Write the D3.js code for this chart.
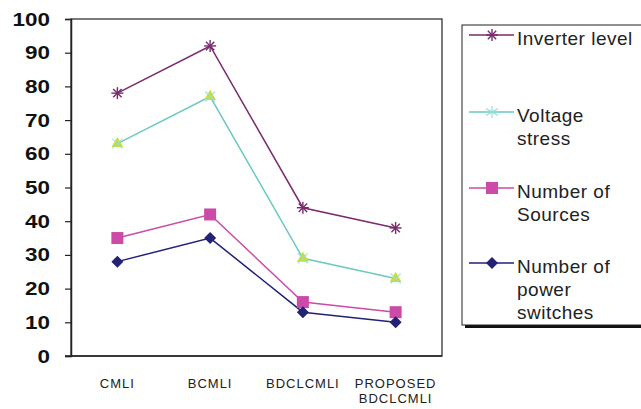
<!DOCTYPE html>
<html lang="en">
  <head>
    <meta charset="utf-8">
    <script src="https://cdn.jsdelivr.net/npm/d3@7"></script>
    <style>
      body { margin: 0; background: #fff; }
      text { font-family: "Liberation Sans", Arial, sans-serif; }
    </style>
  </head>
  <body>
    <svg id="chart" width="641" height="409"></svg>
  </body>
  <script>
    var categories = ["CMLI", "BCMLI", "BDCLCMLI", "PROPOSED\nBDCLCMLI"];
    var inverterLevel = [78, 92, 44, 38];
    var voltageStress = [63, 77, 29, 23];
    var numSources = [35, 42, 16, 13];
    var numSwitches = [28, 35, 13, 10];
    var yTicks = [0, 10, 20, 30, 40, 50, 60, 70, 80, 90, 100];

    var series = [
      {name: ["Inverter level"], values: inverterLevel, color: "#7a2a6e", marker: "star"},
      {name: ["Voltage", "stress"], values: voltageStress, color: "#6cc9c2", marker: "tri"},
      {name: ["Number of", "Sources"], values: numSources, color: "#cc4aa8", marker: "square"},
      {name: ["Number of", "power", "switches"], values: numSwitches, color: "#222277", marker: "diamond"}
    ];

    var svg = d3.select("#chart");
    // plot area edges (avoid the name "top", it is window.top)
    var pLeft = 71, pRight = 442, pTop = 19, pBottom = 356;

    var x = d3.scalePoint().domain(d3.range(categories.length)).range([pLeft, pRight]).padding(0.5);
    var y = d3.scaleLinear().domain([0, 100]).range([pBottom, pTop]);

    // frame of plot area
    svg.append("rect")
      .attr("x", pLeft).attr("y", pTop)
      .attr("width", pRight - pLeft).attr("height", pBottom - pTop)
      .attr("fill", "none").attr("stroke", "#222").attr("stroke-width", 1.2);

    var yAxis = d3.axisLeft(y).tickValues(yTicks).tickSize(6).tickPadding(15);
    var gy = svg.append("g").attr("transform", "translate(" + pLeft + ",0)").call(yAxis);
    gy.select(".domain").attr("stroke", "#222").attr("stroke-width", 1.5);
    gy.selectAll(".tick line").attr("stroke", "#222").attr("stroke-width", 1.2);
    // the tick numbers in the picture are stretched wide
    gy.selectAll(".tick text")
      .attr("font-size", 19).attr("font-weight", "bold").attr("fill", "#111")
      .attr("font-family", "'Liberation Sans', Arial, sans-serif")
      .attr("textLength", function(d) { return String(d).length * 12.5; })
      .attr("lengthAdjust", "spacingAndGlyphs");

    svg.append("line")
      .attr("x1", pLeft - 6).attr("x2", pRight)
      .attr("y1", pBottom).attr("y2", pBottom)
      .attr("stroke", "#222").attr("stroke-width", 1.5);

    // x labels
    categories.forEach(function(c, i) {
      var lines = c.split("\n");
      var t = svg.append("text")
        .attr("x", x(i)).attr("y", 388)
        .attr("text-anchor", "middle")
        .attr("font-size", 13).attr("fill", "#222")
        .attr("letter-spacing", "1px");
      lines.forEach(function(l, j) {
        t.append("tspan").attr("x", x(i)).attr("dy", j === 0 ? 0 : 15).text(l);
      });
    });

    function drawMarker(g, type, cx, cy, color) {
      if (type === "star") {
        var r = 6;
        [[-r, 0, r, 0], [-r * 0.7, -r * 0.7, r * 0.7, r * 0.7], [-r * 0.7, r * 0.7, r * 0.7, -r * 0.7], [0, -r, 0, r]]
          .forEach(function(s) {
            g.append("line")
              .attr("x1", cx + s[0]).attr("y1", cy + s[1])
              .attr("x2", cx + s[2]).attr("y2", cy + s[3])
              .attr("stroke", color).attr("stroke-width", 1.4);
          });
      } else if (type === "tri") {
        g.append("path")
          .attr("d", d3.symbol(d3.symbolTriangle, 60)())
          .attr("transform", "translate(" + cx + "," + cy + ")")
          .attr("fill", "#cfdc2a");
        var r2 = 5;
        [[-r2, -r2, r2, r2], [-r2, r2, r2, -r2]].forEach(function(s) {
          g.append("line")
            .attr("x1", cx + s[0]).attr("y1", cy + s[1])
            .attr("x2", cx + s[2]).attr("y2", cy + s[3])
            .attr("stroke", "#8fe0e0").attr("stroke-width", 1.2).attr("opacity", 0.8);
        });
      } else if (type === "square") {
        g.append("rect")
          .attr("x", cx - 6).attr("y", cy - 6)
          .attr("width", 12).attr("height", 12)
          .attr("fill", color);
      } else if (type === "diamond") {
        g.append("path")
          .attr("d", "M" + cx + "," + (cy - 6) + "L" + (cx + 6) + "," + cy + "L" + cx + "," + (cy + 6) + "L" + (cx - 6) + "," + cy + "Z")
          .attr("fill", color);
      }
    }

    var line = d3.line()
      .x(function(d, i) { return x(i); })
      .y(function(d) { return y(d); });

    series.forEach(function(s) {
      svg.append("path")
        .attr("d", line(s.values))
        .attr("fill", "none")
        .attr("stroke", s.color)
        .attr("stroke-width", 1.5);
    });
    series.forEach(function(s) {
      var g = svg.append("g");
      s.values.forEach(function(v, i) {
        drawMarker(g, s.marker, x(i), y(v), s.color);
      });
    });

    // legend
    var lg = svg.append("g");
    lg.append("rect")
      .attr("x", 465).attr("y", 28).attr("width", 190).attr("height", 300)
      .attr("fill", "#111");
    lg.append("rect")
      .attr("x", 462).attr("y", 25).attr("width", 190).attr("height", 300)
      .attr("fill", "#fff").attr("stroke", "#222").attr("stroke-width", 1);

    var legendY = [35, 112, 188, 263];
    series.forEach(function(s, i) {
      var ly = legendY[i];
      lg.append("line")
        .attr("x1", 469).attr("x2", 514)
        .attr("y1", ly).attr("y2", ly)
        .attr("stroke", s.color).attr("stroke-width", 1.5);
      if (s.marker === "tri") {
        var r = 6;
        [[-r, -r * 0.6, r, r * 0.6], [-r, r * 0.6, r, -r * 0.6], [0, -r, 0, r]].forEach(function(p) {
          lg.append("line")
            .attr("x1", 492 + p[0]).attr("y1", ly + p[1])
            .attr("x2", 492 + p[2]).attr("y2", ly + p[3])
            .attr("stroke", "#8fdcdc").attr("stroke-width", 1.2);
        });
      } else {
        drawMarker(lg, s.marker, 492, ly, s.color);
      }
      var t = lg.append("text")
        .attr("x", 517).attr("y", ly + 10)
        .attr("font-size", 19).attr("fill", "#222")
        .attr("letter-spacing", "0.5px");
      s.name.forEach(function(n, j) {
        t.append("tspan").attr("x", 517).attr("dy", j === 0 ? 0 : 23).text(n);
      });
    });
  </script>
</html>
